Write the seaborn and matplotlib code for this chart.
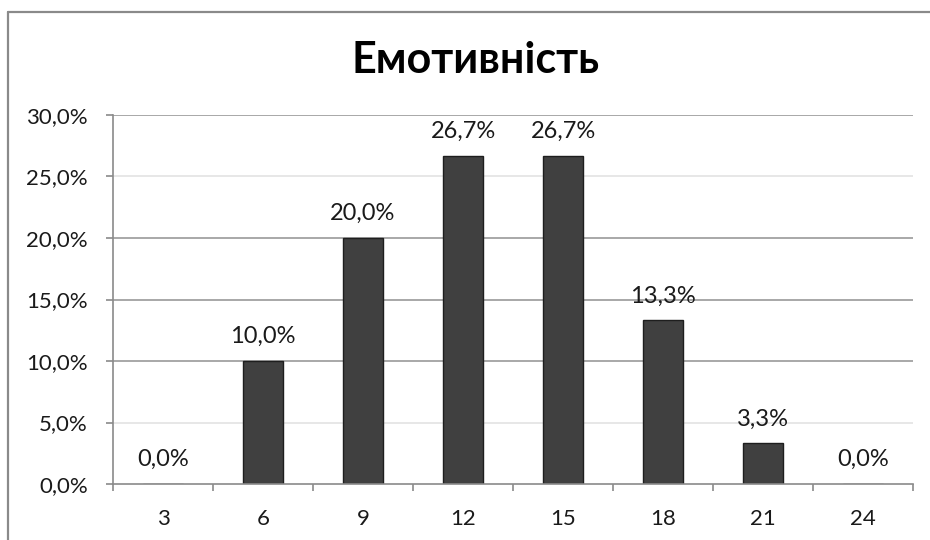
import matplotlib
matplotlib.use("Agg")
import matplotlib.pyplot as plt
import seaborn as sns
import pandas as pd
from matplotlib.lines import Line2D

# Data: score bins and share of respondents
categories = ["3", "6", "9", "12", "15", "18", "21", "24"]
shares = [0.0, 0.100, 0.200, 0.267, 0.267, 0.133, 0.033, 0.0]
value_labels = ["0,0%", "10,0%", "20,0%", "26,7%", "26,7%", "13,3%", "3,3%", "0,0%"]
y_ticks = [0.0, 0.05, 0.10, 0.15, 0.20, 0.25, 0.30]
y_tick_labels = ["0,0%", "5,0%", "10,0%", "15,0%", "20,0%", "25,0%", "30,0%"]
title = "Емотивність"

sns.set_theme(style="white")
plt.rcParams["font.family"] = ["Lato", "DejaVu Sans"]

df = pd.DataFrame({"score": categories, "share": shares})

fig = plt.figure(figsize=(9.3, 5.4), dpi=100)
ax = fig.add_axes([113 / 930, 1 - 484 / 540, 800 / 930, 369 / 540])

# outer chart frame (left and top edges)
fx, fy = 7.5 / 930, 1 - 11.5 / 540
fig.add_artist(Line2D([fx, fx], [0, fy], transform=fig.transFigure,
                      color="#8a8a8a", linewidth=1.6))
fig.add_artist(Line2D([fx, 1], [fy, fy], transform=fig.transFigure,
                      color="#8a8a8a", linewidth=1.6))

sns.barplot(data=df, x="score", y="share", order=categories, color="#404040",
            saturation=1, width=0.4, edgecolor="#1e1e1e", linewidth=1.0,
            ax=ax, zorder=3)

ax.set_xlim(-0.5, len(categories) - 0.5)
ax.set_ylim(0, 0.30)

# gridlines
for v in y_ticks[1:]:
    major = round(v * 100) % 10 == 0 or abs(v - 0.15) < 1e-9
    ax.axhline(v, color="#9a9a9a" if major else "#e3e3e3",
               linewidth=1.2, zorder=1)

ax.set_yticks(y_ticks)
ax.set_yticklabels(y_tick_labels)

# category ticks sit on the boundaries, labels in the middle
ax.set_xticks([i - 0.5 for i in range(len(categories) + 1)])
ax.set_xticklabels([])
ax.set_xticks(range(len(categories)), minor=True)
ax.set_xticklabels(categories, minor=True)
ax.tick_params(axis="x", which="major", length=5, width=1.2, color="#8a8a8a",
               direction="out", bottom=True)
ax.tick_params(axis="x", which="minor", length=0, pad=18, labelsize=16,
               labelcolor="#1a1a1a")
ax.tick_params(axis="y", length=5, width=1.2, color="#8a8a8a", direction="out",
               left=True, pad=13, labelsize=16, labelcolor="#1a1a1a")

for side in ("top", "right"):
    ax.spines[side].set_visible(False)
for side in ("left", "bottom"):
    ax.spines[side].set_color("#8a8a8a")
    ax.spines[side].set_linewidth(1.2)
    ax.spines[side].set_zorder(5)
ax.set_xlabel("")
ax.set_ylabel("")

for i, (v, lab) in enumerate(zip(shares, value_labels)):
    ax.annotate(lab, (i, v), xytext=(0, 10), textcoords="offset points",
                ha="center", va="bottom", fontsize=17, color="#1a1a1a")

fig.text(475 / 930, 1 - 60 / 540, title, ha="center", va="center",
         fontsize=31, fontweight="bold", color="black")

fig.savefig("out.png", dpi=100, facecolor="white")
